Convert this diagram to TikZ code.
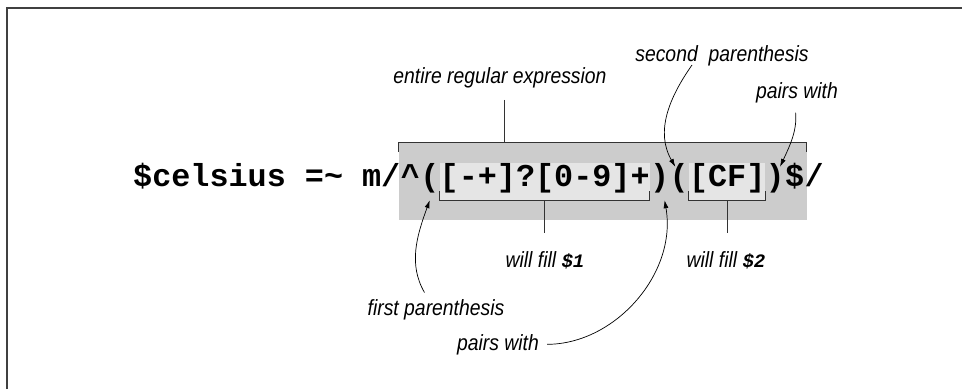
\documentclass[tikz,border=0pt]{standalone}
\usepackage{fontspec}
\newfontfamily\codefont{Liberation Mono}
\newfontfamily\notefont[FakeStretch=0.88]{Liberation Sans}
\newcommand{\regvar}[1]{{\codefont\bfseries\itshape\fontsize{19}{22}\selectfont\$#1}}
\usetikzlibrary{arrows.meta,positioning,fit,backgrounds}

\begin{document}
\begin{tikzpicture}[x=1pt, y=1pt,
    code/.style={inner sep=0, anchor=base west, text height=24pt, text depth=13pt,
        font=\codefont\bfseries\fontsize{31.8}{36}\selectfont},
    group/.style={code, fill=gray!20},
    note/.style={inner sep=2pt, anchor=base,
        font=\notefont\itshape\fontsize{22}{26}\selectfont},
    tick/.style={draw=black!80, line width=0.8pt},
    pointer/.style={draw=black, line width=0.7pt, -{Latex[length=8pt, width=5pt]}}]
    \useasboundingbox (0, 0) rectangle (962, 389);
    \draw[line width=1.6pt, black!75] (7, 0) -- (7, 381) -- (962, 381);

    \node[code] (pre) at (133, 202) {\$celsius =\textasciitilde{} m/};
    \node[code] (caret) at (pre.base east) {\textasciicircum};
    \node[code] (lpa) at (caret.base east) {(};
    \node[group] (grp1) at (lpa.base east) {[-+]?[0-9]+};
    \node[code] (rpa) at (grp1.base east) {)};
    \node[code] (lpb) at (rpa.base east) {(};
    \node[group] (grp2) at (lpb.base east) {[CF]};
    \node[code] (rpb) at (grp2.base east) {)};
    \node[code] (dol) at (rpb.base east) {\$};
    \node[code] (slash) at (dol.base east) {/};
    \begin{scope}[on background layer]
        \node[fit=(caret)(dol), inner xsep=2pt, inner ysep=20pt, fill=gray!40] (gbox) {};
    \end{scope}

    \node[note] (whole) at (500, 305) {entire regular expression};
    \node[note] (fill1) at (545, 122) {will fill \regvar{1}};
    \node[note] (fill2) at (726, 122) {will fill \regvar{2}};
    \node[note] (first) at (436, 74) {first parenthesis};
    \node[note] (pairA) at (498, 39) {pairs with};
    \node[note] (second) at (722, 327) {second\ \ parenthesis};
    \node[note] (pairB) at (797, 290) {pairs with};

    \draw[tick] ([yshift=-9pt]gbox.north west) -- (gbox.north west)
        -- (gbox.north east) -- ([yshift=-9pt]gbox.north east);
    \draw[tick, shorten <=9pt] ([xshift=4pt]whole.south) -- ([xshift=4pt]whole.south |- gbox.north);
    \draw[tick] ([yshift=9pt]grp1.south west) -- (grp1.south west)
        -- (grp1.south east) -- ([yshift=9pt]grp1.south east);
    \draw[tick] ([yshift=9pt]grp2.south west) -- (grp2.south west)
        -- (grp2.south east) -- ([yshift=9pt]grp2.south east);
    \draw[tick, shorten >=16pt] (grp1.south) -- (grp1.south |- fill1.north);
    \draw[tick, shorten >=16pt] (grp2.south) -- (grp2.south |- fill2.north);

    \draw[pointer, shorten <=5pt] ([xshift=-9pt]first.north) to[out=120, in=250] (lpa.south);
    \draw[pointer, shorten <=6pt] (pairA.east) to[out=0, in=280] ([xshift=5pt]rpa.south);
    \draw[pointer] ([xshift=-30pt, yshift=-3pt]second.base)
        to[out=235, in=120] ([xshift=6pt, yshift=-4pt]lpb.north west);
    \draw[pointer, shorten <=7pt] ([xshift=-2pt]pairB.south)
        to[out=-85, in=65] ([xshift=-5pt, yshift=-4pt]rpb.north east);
\end{tikzpicture}
\end{document}
